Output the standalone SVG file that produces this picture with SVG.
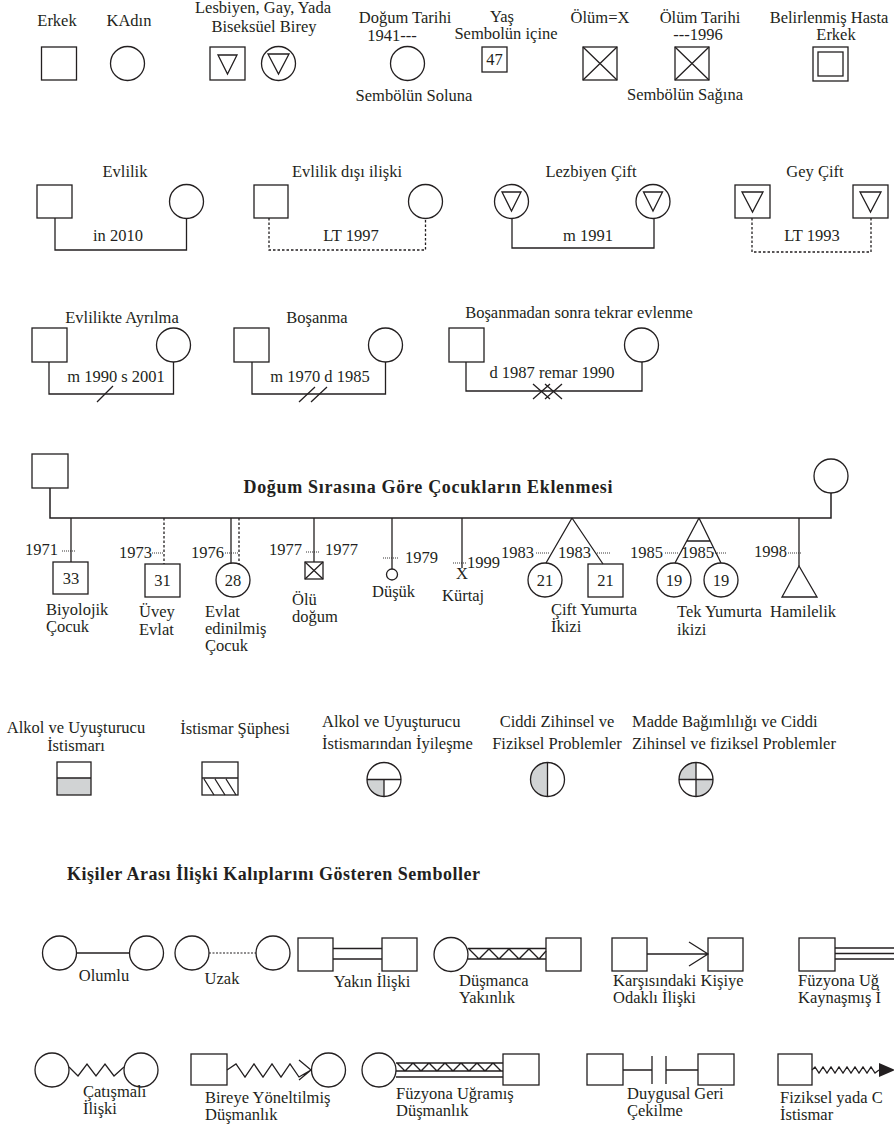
<svg xmlns="http://www.w3.org/2000/svg" width="894" height="1126" viewBox="0 0 894 1126" font-family="'Liberation Serif', 'DejaVu Serif', 'Times New Roman', serif">
<style>
text{font-family:"Liberation Serif","DejaVu Serif","Times New Roman",serif;font-size:16.5px;fill:#231f20}
.m{text-anchor:middle}
.e{text-anchor:end}
.bd{font-weight:bold;font-size:18px}
.s{fill:none;stroke:#231f20;stroke-width:1.3}
.d{fill:none;stroke:#231f20;stroke-width:1.3;stroke-dasharray:2.5 2}
.o{fill:none;stroke:#231f20;stroke-width:0.9;stroke-dasharray:1 1}
.g{fill:#d1d3d4}
.k{fill:#231f20}
</style>
<rect width="894" height="1126" fill="#fff"/>

<!-- Top legend row -->
<g id="erkek"><text class="m" x="57" y="26">Erkek</text><rect class="s" x="41.5" y="47" width="35" height="33"/></g>
<g id="kadin"><text class="m" x="129" y="26">KAdın</text><circle class="s" cx="127.5" cy="63.5" r="17"/></g>
<g id="lgb"><text class="m" x="263" y="13">Lesbiyen, Gay, Yada</text><text class="m" x="264" y="32">Biseksüel Birey</text>
<rect class="s" x="210" y="47" width="35" height="33"/><path class="s" d="M218,55 H237 L227.5,74 Z"/>
<circle class="s" cx="278.5" cy="63.5" r="17"/><path class="s" d="M268,54 H289 L278.5,74 Z"/></g>
<g id="dogum"><text class="m" x="405" y="23">Doğum Tarihi</text><text class="m" x="392" y="41">1941---</text><circle class="s" cx="407.5" cy="63.5" r="17"/><text class="m" x="414" y="101">Sembölün Soluna</text></g>
<g id="yas"><text class="m" x="502" y="22">Yaş</text><text class="m" x="506" y="39">Sembolün içine</text><rect class="s" x="482" y="47" width="25" height="25"/><text class="m" x="494.5" y="65">47</text></g>
<g id="olum"><text class="m" x="600" y="23">Ölüm=X</text><rect class="s" x="583" y="47" width="34" height="33"/><path class="s" d="M583,47 L617,80 M617,47 L583,80"/></g>
<g id="olumtarihi"><text class="m" x="700" y="23">Ölüm Tarihi</text><text class="m" x="698" y="40">---1996</text><rect class="s" x="675" y="47" width="34" height="33"/><path class="s" d="M675,47 L709,80 M709,47 L675,80"/><text class="m" x="685" y="100">Sembölün Sağına</text></g>
<g id="hasta"><text class="m" x="829" y="23">Belirlenmiş Hasta</text><text class="m" x="836" y="40">Erkek</text><rect class="s" x="813" y="47" width="35" height="34"/><rect class="s" x="818" y="52" width="25" height="24"/></g>

<!-- Couples -->
<g id="evlilik"><text class="m" x="125" y="177">Evlilik</text><rect class="s" x="37" y="185" width="35" height="33"/><circle class="s" cx="186.5" cy="201.5" r="17"/><text class="m" x="118" y="241">in 2010</text></g>
<g id="evlilikdisi"><text class="m" x="347" y="177">Evlilik dışı ilişki</text><rect class="s" x="254" y="185" width="34" height="33"/><circle class="s" cx="425.5" cy="201.5" r="17"/><text class="m" x="351" y="241">LT 1997</text></g>
<g id="lezbiyen"><text class="m" x="591" y="177">Lezbiyen Çift</text>
<circle class="s" cx="511.5" cy="201.5" r="17"/><path class="s" d="M502,192 H521 L511.5,211 Z"/>
<circle class="s" cx="653" cy="201.5" r="17"/><path class="s" d="M643.5,192 H662.5 L653,211 Z"/><text class="m" x="588" y="241">m 1991</text></g>
<g id="gey"><text class="m" x="815" y="177">Gey Çift</text>
<rect class="s" x="735" y="185" width="35" height="33"/><path class="s" d="M742,192 H763 L752.5,212 Z"/>
<rect class="s" x="853" y="185" width="35" height="33"/><path class="s" d="M860,192 H881 L870.5,212 Z"/><text class="m" x="812" y="241">LT 1993</text></g>

<g id="ayrilma"><text class="m" x="122" y="323">Evlilikte Ayrılma</text><rect class="s" x="32" y="328" width="35" height="34"/><circle class="s" cx="173.5" cy="345" r="17"/><text class="m" x="116" y="382">m 1990 s 2001</text></g>
<g id="bosanma"><text class="m" x="317" y="323">Boşanma</text><rect class="s" x="234" y="328" width="35" height="34"/><circle class="s" cx="385.5" cy="345" r="17"/><text class="m" x="320" y="382">m 1970 d 1985</text></g>
<g id="tekrar"><text class="m" x="579" y="318">Boşanmadan sonra tekrar evlenme</text><rect class="s" x="449" y="328" width="35" height="34"/><circle class="s" cx="641.5" cy="345" r="17"/><text class="m" x="552" y="378">d 1987 remar 1990</text></g>

<!-- Children section -->
<g id="baba"><rect class="s" x="32" y="454" width="36" height="34"/></g>
<g id="anne"><circle class="s" cx="831" cy="476" r="17"/></g>
<text class="bd m" x="428" y="493" textLength="369">Doğum Sırasına Göre Çocukların Eklenmesi</text>

<g id="biyolojik"><rect class="s" x="53" y="562" width="35" height="32"/><text class="m" x="71" y="584">33</text><text class="e" x="58" y="555">1971</text><text x="46" y="615">Biyolojik</text><text x="46" y="632">Çocuk</text></g>
<g id="uvey"><rect class="s" x="145" y="564" width="35" height="33"/><text class="m" x="162.5" y="586">31</text><text class="e" x="152" y="558">1973</text><text x="139" y="617">Üvey</text><text x="139" y="635">Evlat</text></g>
<g id="evlatlik"><circle class="s" cx="233" cy="580" r="17"/><text class="m" x="233" y="586">28</text><text class="e" x="224" y="558">1976</text><text x="205" y="617">Evlat</text><text x="205" y="634">edinilmiş</text><text x="205" y="651">Çocuk</text></g>
<g id="oludogum"><rect class="s" x="305" y="562" width="18" height="17"/><path class="s" d="M305,562 L323,579 M323,562 L305,579"/><text class="e" x="302" y="555">1977</text><text x="325" y="555">1977</text><text x="292" y="605">Ölü</text><text x="292" y="622">doğum</text></g>
<g id="dusuk"><circle class="s" cx="392" cy="574.5" r="5.5"/><text x="405" y="563">1979</text><text x="372" y="597">Düşük</text></g>
<g id="kurtaj"><text class="m" x="462" y="579">X</text><text x="467" y="568">1999</text><text x="442" y="601">Kürtaj</text></g>
<g id="ciftyumurta"><circle class="s" cx="545" cy="580" r="17"/><text class="m" x="545" y="586">21</text><rect class="s" x="588" y="564" width="35" height="33"/><text class="m" x="605.5" y="586">21</text><text class="e" x="534" y="558">1983</text><text x="558" y="558">1983</text><text x="551" y="615">Çift Yumurta</text><text x="551" y="632">İkizi</text></g>
<g id="tekyumurta"><circle class="s" cx="674" cy="580" r="17"/><text class="m" x="674" y="586">19</text><circle class="s" cx="721" cy="580" r="17"/><text class="m" x="721" y="586">19</text><text class="e" x="663" y="558">1985</text><text x="681" y="558">1985</text><text x="677" y="617">Tek Yumurta</text><text x="677" y="635">ikizi</text></g>
<g id="hamilelik"><path class="s" d="M799,566 L782,597 H817 Z"/><text class="e" x="787" y="557">1998</text><text x="770" y="617">Hamilelik</text></g>

<!-- Abuse / problem symbols -->
<g id="alkol"><text class="m" x="76" y="733">Alkol ve Uyuşturucu</text><text class="m" x="76" y="751">İstismarı</text>
<rect class="g" x="57" y="778" width="34" height="17"/><rect class="s" x="57" y="762" width="34" height="33"/><path class="s" d="M57,778 H91"/></g>
<g id="suphe"><text class="m" x="235" y="734">İstismar Şüphesi</text>
<rect class="s" x="202" y="762" width="36" height="33"/><path class="s" d="M202,778 H238 M204,779 L214,795 M215,779 L225,795 M226,779 L236,795"/></g>
<g id="iyilesme"><text x="322" y="727">Alkol ve Uyuşturucu</text><text x="322" y="749">İstismarından İyileşme</text>
<path class="g" d="M384,779.5 H367 A17,17 0 0,0 384,796.5 Z"/><circle class="s" cx="384" cy="779.5" r="17"/><path class="s" d="M367,779.5 H401 M384,779.5 V796.5"/></g>
<g id="ciddi"><text class="m" x="557" y="727">Ciddi Zihinsel ve</text><text class="m" x="557" y="749">Fiziksel Problemler</text>
<path class="g" d="M547.5,762.5 A17,17 0 0,0 547.5,796.5 Z"/><circle class="s" cx="547.5" cy="779.5" r="17"/><path class="s" d="M547.5,762.5 V796.5"/></g>
<g id="madde"><text x="632" y="727">Madde Bağımlılığı ve Ciddi</text><text x="632" y="749">Zihinsel ve fiziksel Problemler</text>
<path class="g" d="M696,779.5 V762.5 A17,17 0 0,0 679,779.5 Z M696,779.5 H713 A17,17 0 0,1 696,796.5 Z"/><circle class="s" cx="696" cy="779.5" r="17"/><path class="s" d="M679,779.5 H713 M696,762.5 V796.5"/></g>

<!-- Relationship patterns -->
<text class="bd m" x="273.5" y="880" textLength="413">Kişiler Arası İlişki Kalıplarını Gösteren Semboller</text>

<g id="olumlu"><circle class="s" cx="59.5" cy="953" r="17"/><circle class="s" cx="146.5" cy="953" r="17"/><text class="m" x="104" y="981">Olumlu</text></g>
<g id="uzak"><circle class="s" cx="192" cy="953" r="17"/><circle class="s" cx="273" cy="953" r="17"/><text class="m" x="222" y="984">Uzak</text></g>
<g id="yakin"><rect class="s" x="298" y="938" width="35" height="33"/><rect class="s" x="382" y="938" width="35" height="33"/><text class="m" x="372" y="987">Yakın İlişki</text></g>
<g id="dusmancayakin"><circle class="s" cx="451" cy="954.5" r="17"/><rect class="s" x="546" y="938" width="35" height="33"/><text x="459" y="986">Düşmanca</text><text x="459" y="1003">Yakınlık</text></g>
<g id="odakli"><rect class="s" x="612" y="938" width="35" height="33"/><rect class="s" x="708" y="938" width="35" height="33"/><text x="613" y="986">Karşısındaki Kişiye</text><text x="613" y="1003">Odaklı İlişki</text></g>
<g id="kaynasmis"><rect class="s" x="799" y="938" width="36" height="33"/><text x="798" y="986">Füzyona Uğ</text><text x="798" y="1003">Kaynaşmış İ</text></g>

<g id="catismali"><circle class="s" cx="52" cy="1070" r="17"/><circle class="s" cx="141" cy="1070" r="17"/><text x="83" y="1097">Çatışmalı</text><text x="83" y="1114">İlişki</text></g>
<g id="bireye"><rect class="s" x="191" y="1054" width="36" height="31"/><circle class="s" cx="328.5" cy="1070" r="17"/><text x="205" y="1103">Bireye Yöneltilmiş</text><text x="205" y="1120">Düşmanlık</text></g>
<g id="fuzyondusman"><circle class="s" cx="379" cy="1070" r="17"/><rect class="s" x="503" y="1054" width="36" height="31"/><text x="396" y="1099">Füzyona Uğramış</text><text x="396" y="1116">Düşmanlık</text></g>
<g id="geri"><rect class="s" x="587" y="1054" width="36" height="31"/><rect class="s" x="698" y="1054" width="36" height="31"/><text x="627" y="1099">Duygusal Geri</text><text x="627" y="1116">Çekilme</text></g>
<g id="istismar"><rect class="s" x="778" y="1054" width="34" height="31"/><text x="780" y="1103">Fiziksel yada C</text><text x="780" y="1120">İstismar</text></g>

<!-- Connectors -->
<g id="connectors">
<path class="s" d="M55,218 V250 H186.5 V218.5"/>
<path class="d" d="M269,218 V250 H425.5 V218.5"/>
<path class="s" d="M512,218.5 V248 H654 V218.5"/>
<path class="d" d="M752,218 V252 H871 V218"/>

<path class="s" d="M49,362 V394 H173.5 V362"/>
<path class="s" d="M97,402 L113,386"/>
<path class="s" d="M252,362 V394 H385.5 V362"/>
<path class="s" d="M299,402 L315,387 M311,402 L327,387"/>
<path class="s" d="M466,362 V391 H642 V362"/>
<path class="s" d="M533,399 L550,384 M533,384 L550,399 M545,399 L562,384 M545,384 L562,399"/>

<path class="s" d="M50,488 V518 H831 V493" style="stroke-width:1.5"/>
<path class="s" d="M71,518 V562"/>
<path class="d" d="M164,518 V564"/>
<path class="s" d="M231,518 V563.2"/>
<path class="d" d="M239,518 V564.5"/>
<path class="s" d="M314,518 V562"/>
<path class="s" d="M392,518 V569"/>
<path class="s" d="M462,518 V568"/>
<path class="s" d="M572,518 L546,563 M572,518 L603,564"/>
<path class="s" d="M699,518 L675,563 M699,518 L721,563 M686.7,541 H710"/>
<path class="s" d="M799,518 V566"/>
<path class="o" d="M62,551 H76 M152,553 H164 M225,553 H239 M306,552 H319 M383,558 H398 M453,563 H467 M536,553 H550 M597,553 H610 M665,553 H679 M713,553 H727 M788,553 H802"/>

<path class="s" d="M76.5,953 H129.5"/>
<path class="o" d="M209,953 H256" style="stroke-width:1.2;stroke-dasharray:2 1.5"/>
<path class="s" d="M333,948.5 H382 M333,959 H382"/>
<path class="s" d="M468,948.5 H546 M468,959 H546 M469,949 L479,959 L489,949 L499,959 L509,949 L519,959 L529,949 L539,959 L546,951"/>
<path class="s" d="M647,954 H708 M689,942 L708,954 L689,966"/>
<path class="s" d="M835,948 H894 M835,953.5 H894 M835,959 H894"/>

<path class="s" d="M69,1067 L78,1076 L87,1064 L96,1076 L105,1064 L114,1076 L124,1067"/>
<path class="s" d="M227,1070 L236,1064 L245,1077 L254,1064 L263,1077 L272,1064 L281,1077 L290,1064 L299,1077 L311,1070 M299,1060 L311,1070 L299,1080"/>
<path class="s" d="M396,1063 H503 M396,1071 H503 M396,1077 H503 M397,1063 L405,1071 L413,1063 L421,1071 L429,1063 L437,1071 L445,1063 L453,1071 L461,1063 L469,1071 L477,1063 L485,1071 L493,1063 L501,1071"/>
<path class="s" d="M623,1070 H652 M652,1056 V1084 M666,1056 V1084 M666,1070 H698"/>
<path class="s" d="M812,1070 L815,1067 L819,1073 L823,1067 L827,1073 L831,1067 L835,1073 L839,1067 L843,1073 L847,1067 L851,1073 L855,1067 L859,1073 L863,1067 L867,1073 L871,1067 L875,1073 L879,1070"/>
<path class="k" d="M879,1063 L895,1070 L879,1077 Z"/>
</g>
</svg>
